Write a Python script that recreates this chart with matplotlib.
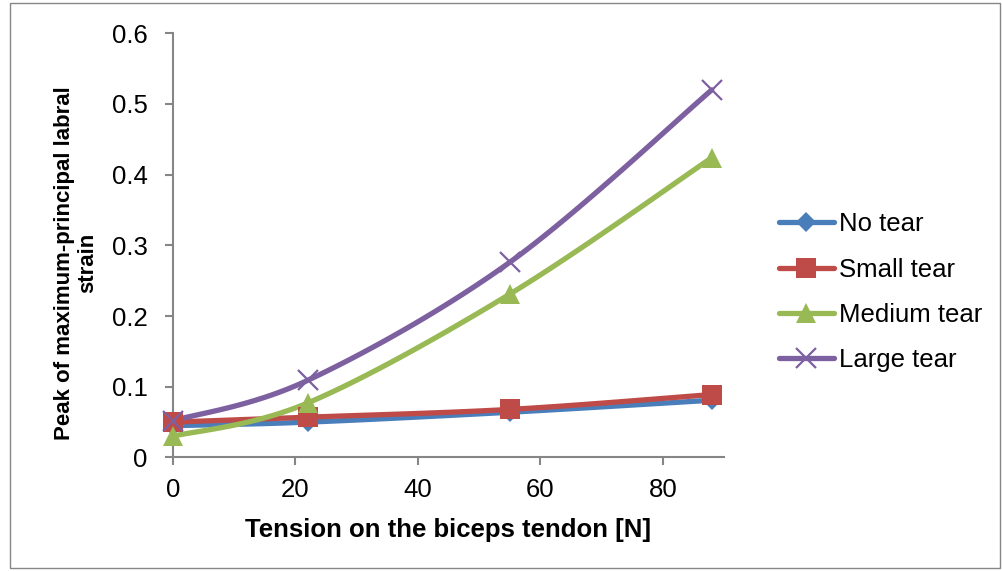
import numpy as np
import matplotlib.pyplot as plt
from matplotlib.patches import Rectangle

plt.rcParams['font.family'] = ['Liberation Sans', 'DejaVu Sans']

# Tension on the biceps tendon [N]
tension = [0, 22, 55, 88]

no_tear = [0.045, 0.050, 0.064, 0.081]
small_tear = [0.050, 0.057, 0.068, 0.089]
medium_tear = [0.030, 0.077, 0.231, 0.424]
large_tear = [0.052, 0.109, 0.276, 0.520]

series_names = ["No tear", "Small tear", "Medium tear", "Large tear"]
series_colors = ["#4A7EBB", "#BE4B48", "#98B954", "#7D60A0"]
series_markers = ["D", "s", "^", "x"]
marker_sizes = [10, 14, 15, 14]


def smooth(x, y, n=40):
    # Catmull-Rom style bezier smoothing, like spreadsheet "smoothed line"
    x = np.asarray(x, float)
    y = np.asarray(y, float)
    px = np.concatenate([[x[0]], x, [x[-1]]])
    py = np.concatenate([[y[0]], y, [y[-1]]])
    xs, ys = [], []
    t = np.linspace(0, 1, n)
    for i in range(1, len(x)):
        p0 = np.array([px[i], py[i]])
        p3 = np.array([px[i + 1], py[i + 1]])
        c1 = p0 + (np.array([px[i + 1], py[i + 1]]) - np.array([px[i - 1], py[i - 1]])) / 6
        c2 = p3 - (np.array([px[i + 2], py[i + 2]]) - np.array([px[i], py[i]])) / 6
        b = ((1 - t) ** 3)[:, None] * p0 + (3 * (1 - t) ** 2 * t)[:, None] * c1 \
            + (3 * (1 - t) * t ** 2)[:, None] * c2 + (t ** 3)[:, None] * p3
        xs.extend(b[:, 0])
        ys.extend(b[:, 1])
    return xs, ys


fig = plt.figure(figsize=(10.02, 5.71), dpi=100)
fig.patches.append(Rectangle((10 / 1002, 3 / 571), 990 / 1002, 565 / 571,
                             transform=fig.transFigure, fill=False,
                             edgecolor="#868686", linewidth=1))
ax = fig.add_axes([0.1724, 0.1988, 0.5502, 0.7429])

all_series = [no_tear, small_tear, medium_tear, large_tear]
handles = []
for vals, name, col, mk, ms in zip(all_series, series_names, series_colors,
                                    series_markers, marker_sizes):
    sx, sy = smooth(tension, vals)
    ax.plot(sx, sy, color=col, linewidth=3.8, solid_capstyle="round", zorder=3)
    mew = 1.6 if mk == "x" else 0
    ax.plot(tension, vals, linestyle="none", marker=mk, markersize=ms,
            color=col, markeredgewidth=mew, zorder=4, clip_on=False)
    h, = ax.plot([], [], color=col, linewidth=3.8, marker=mk, markersize=ms,
                 markeredgewidth=mew, solid_capstyle="round")
    handles.append(h)

ax.set_xlim(0, 90)
ax.set_ylim(0, 0.6)
ax.set_xticks([0, 20, 40, 60, 80])
ax.set_yticks([0, 0.1, 0.2, 0.3, 0.4, 0.5, 0.6])
ax.set_yticklabels(["0", "0.1", "0.2", "0.3", "0.4", "0.5", "0.6"])

for s in ["top", "right"]:
    ax.spines[s].set_visible(False)
for s in ["left", "bottom"]:
    ax.spines[s].set_color("#868686")
    ax.spines[s].set_linewidth(1.5)
ax.tick_params(axis="both", direction="out", length=6, width=1.5,
               color="#868686", labelsize=18.5)
ax.tick_params(axis="x", pad=9)
ax.tick_params(axis="y", pad=12)

ax.set_xlabel("Tension on the biceps tendon [N]", fontsize=18.5,
              fontweight="bold", labelpad=11)
ax.set_ylabel("Peak of maximum-principal labral\nstrain", fontsize=16,
              fontweight="bold", linespacing=1.15, va="center")
ax.yaxis.set_label_coords(-0.176, 0.458)

ax.legend(handles, series_names, loc="center left",
          bbox_to_anchor=(1.099, 0.39), frameon=False, fontsize=18.5,
          handlelength=2.15, handletextpad=0.2, labelspacing=0.82,
          borderaxespad=0, borderpad=0)

fig.savefig("out.png", dpi=100)
